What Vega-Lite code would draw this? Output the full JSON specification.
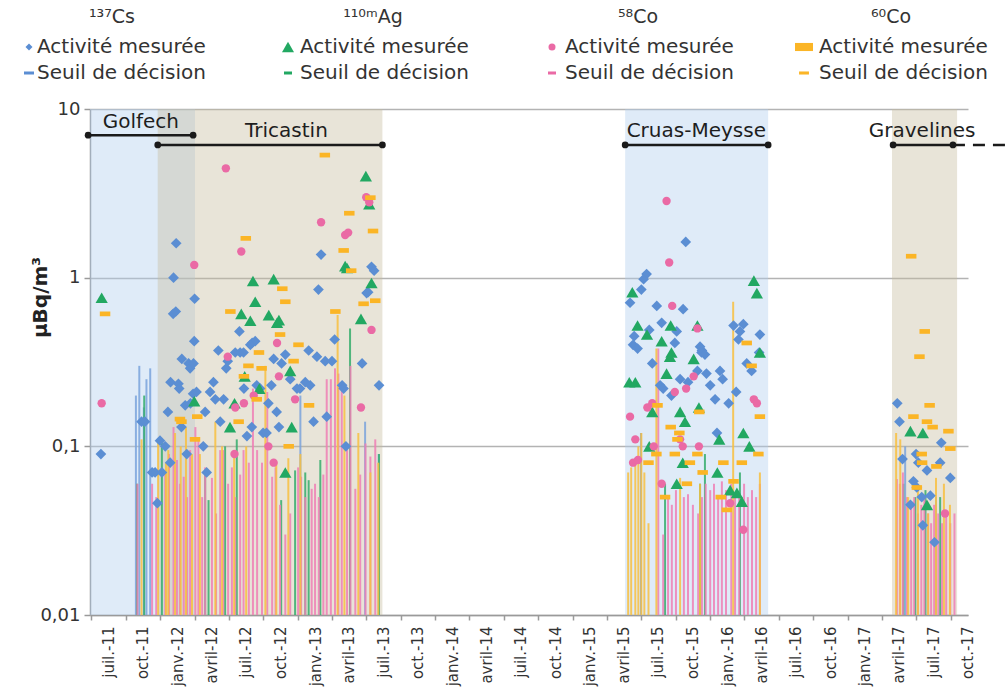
{
"$schema":"https://vega.github.io/schema/vega-lite/v6.json",
"width":878,"height":506,
"autosize":{"type":"none"},
"padding":{"left":90,"top":109,"right":38,"bottom":75},
"background":"#ffffff",
"config":{"font":"DejaVu Sans","view":{"stroke":null}},
"datasets":{
"bands":[
{"site":"Golfech","d":"2011-05-14","d2":"2012-02-17","k":"a"},
{"site":"Tricastin","d":"2011-11-10","d2":"2013-06-29","k":"b"},
{"site":"Cruas-Meysse","d":"2015-04-05","d2":"2016-04-19","k":"a"},
{"site":"Gravelines","d":"2017-03-14","d2":"2017-09-03","k":"b"}],
"sites":[
{"site":"Golfech","d":"2011-05-09","d2":"2012-02-12","v":7.0,"lab":"2011-09-26","lv":8.37},
{"site":"Tricastin","d":"2011-11-10","d2":"2013-06-29","v":6.12,"lab":"2012-10-17","lv":7.41},
{"site":"Cruas-Meysse","d":"2015-04-05","d2":"2016-04-19","v":6.12,"lab":"2015-10-11","lv":7.41},
{"site":"Gravelines","d":"2017-03-17","d2":"2017-08-23","v":6.12,"lab":"2017-06-02","lv":7.41}],
"dash":[{"d":"2017-08-23","d2":"2018-01-20","v":6.12}],
"pts":[
{"d":"2011-06-12","i":"Cs","v":0.09},{"d":"2011-09-28","i":"Cs","v":0.14},{"d":"2011-10-07","i":"Cs","v":0.14},{"d":"2011-10-26","i":"Cs","v":0.07},{"d":"2011-11-03","i":"Cs","v":0.07},{"d":"2011-11-21","i":"Cs","v":0.07},{"d":"2011-11-09","i":"Cs","v":0.046},{"d":"2011-11-16","i":"Cs","v":0.108},{"d":"2011-11-30","i":"Cs","v":0.1},{"d":"2011-12-13","i":"Cs","v":0.08},{"d":"2011-12-07","i":"Cs","v":0.16},{"d":"2011-12-14","i":"Cs","v":0.24},{"d":"2012-01-04","i":"Cs","v":0.235},{"d":"2012-01-06","i":"Cs","v":0.22},{"d":"2012-01-13","i":"Cs","v":0.33},{"d":"2012-01-31","i":"Cs","v":0.31},{"d":"2012-02-04","i":"Cs","v":0.29},{"d":"2012-02-13","i":"Cs","v":0.31},{"d":"2012-01-22","i":"Cs","v":0.175},{"d":"2012-02-05","i":"Cs","v":0.18},{"d":"2012-02-12","i":"Cs","v":0.205},{"d":"2012-02-21","i":"Cs","v":0.21},{"d":"2012-02-15","i":"Cs","v":0.42},{"d":"2011-12-22","i":"Cs","v":1.0},{"d":"2011-12-29","i":"Cs","v":1.6},{"d":"2011-12-21","i":"Cs","v":0.61},{"d":"2011-12-28","i":"Cs","v":0.63},{"d":"2012-02-16","i":"Cs","v":0.75},{"d":"2012-01-12","i":"Cs","v":0.13},{"d":"2012-01-26","i":"Cs","v":0.09},{"d":"2012-03-10","i":"Cs","v":0.1},{"d":"2012-03-19","i":"Cs","v":0.07},{"d":"2012-03-15","i":"Cs","v":0.16},{"d":"2012-03-28","i":"Cs","v":0.21},{"d":"2012-04-11","i":"Cs","v":0.19},{"d":"2012-05-03","i":"Cs","v":0.19},{"d":"2012-04-06","i":"Cs","v":0.24},{"d":"2012-04-19","i":"Cs","v":0.37},{"d":"2012-05-10","i":"Cs","v":0.29},{"d":"2012-05-14","i":"Cs","v":0.32},{"d":"2012-06-03","i":"Cs","v":0.36},{"d":"2012-06-16","i":"Cs","v":0.36},{"d":"2012-06-25","i":"Cs","v":0.36},{"d":"2012-04-24","i":"Cs","v":0.14},{"d":"2012-07-04","i":"Cs","v":0.115},{"d":"2012-07-17","i":"Cs","v":0.13},{"d":"2012-07-18","i":"Cs","v":0.41},{"d":"2012-07-26","i":"Cs","v":0.42},{"d":"2012-06-26","i":"Cs","v":0.22},{"d":"2012-07-30","i":"Cs","v":0.23},{"d":"2012-08-08","i":"Cs","v":0.22},{"d":"2012-08-30","i":"Cs","v":0.18},{"d":"2012-09-21","i":"Cs","v":0.16},{"d":"2012-08-16","i":"Cs","v":0.12},{"d":"2012-08-25","i":"Cs","v":0.12},{"d":"2012-09-27","i":"Cs","v":0.13},{"d":"2012-09-07","i":"Cs","v":0.23},{"d":"2012-09-13","i":"Cs","v":0.33},{"d":"2012-10-04","i":"Cs","v":0.31},{"d":"2012-10-14","i":"Cs","v":0.35},{"d":"2012-10-27","i":"Cs","v":0.25},{"d":"2012-11-14","i":"Cs","v":0.22},{"d":"2012-11-22","i":"Cs","v":0.22},{"d":"2012-12-06","i":"Cs","v":0.24},{"d":"2012-12-19","i":"Cs","v":0.23},{"d":"2012-12-15","i":"Cs","v":0.37},{"d":"2013-01-06","i":"Cs","v":0.34},{"d":"2013-01-28","i":"Cs","v":0.32},{"d":"2013-02-15","i":"Cs","v":0.32},{"d":"2012-12-28","i":"Cs","v":0.14},{"d":"2013-02-01","i":"Cs","v":0.15},{"d":"2013-03-14","i":"Cs","v":0.23},{"d":"2013-03-18","i":"Cs","v":0.22},{"d":"2013-05-06","i":"Cs","v":0.31},{"d":"2013-03-24","i":"Cs","v":0.1},{"d":"2013-06-20","i":"Cs","v":0.23},{"d":"2013-02-22","i":"Cs","v":0.43},{"d":"2012-06-14","i":"Cs","v":0.48},{"d":"2012-07-13","i":"Cs","v":0.4},{"d":"2013-01-10","i":"Cs","v":0.85},{"d":"2013-01-17","i":"Cs","v":1.37},{"d":"2013-05-31","i":"Cs","v":1.16},{"d":"2013-06-07","i":"Cs","v":1.1},{"d":"2013-05-18","i":"Cs","v":0.81},{"d":"2013-05-22","i":"Cs","v":0.82},
{"d":"2015-09-13","i":"Cs","v":1.63},{"d":"2015-06-01","i":"Cs","v":1.05},{"d":"2015-05-24","i":"Cs","v":0.98},{"d":"2015-05-18","i":"Cs","v":0.85},{"d":"2015-04-18","i":"Cs","v":0.71},{"d":"2015-06-28","i":"Cs","v":0.68},{"d":"2015-09-06","i":"Cs","v":0.65},{"d":"2015-06-08","i":"Cs","v":0.49},{"d":"2015-07-11","i":"Cs","v":0.54},{"d":"2015-08-20","i":"Cs","v":0.48},{"d":"2015-04-29","i":"Cs","v":0.45},{"d":"2015-04-26","i":"Cs","v":0.4},{"d":"2015-05-08","i":"Cs","v":0.38},{"d":"2015-08-15","i":"Cs","v":0.41},{"d":"2015-10-26","i":"Cs","v":0.37},{"d":"2015-10-21","i":"Cs","v":0.39},{"d":"2016-01-18","i":"Cs","v":0.52},{"d":"2016-02-13","i":"Cs","v":0.53},{"d":"2016-02-04","i":"Cs","v":0.48},{"d":"2016-01-31","i":"Cs","v":0.43},{"d":"2016-03-28","i":"Cs","v":0.46},{"d":"2015-06-16","i":"Cs","v":0.31},{"d":"2015-10-25","i":"Cs","v":0.36},{"d":"2015-11-03","i":"Cs","v":0.35},{"d":"2015-10-14","i":"Cs","v":0.28},{"d":"2015-11-07","i":"Cs","v":0.27},{"d":"2015-12-13","i":"Cs","v":0.28},{"d":"2015-12-20","i":"Cs","v":0.25},{"d":"2015-11-17","i":"Cs","v":0.23},{"d":"2015-11-30","i":"Cs","v":0.19},{"d":"2016-01-05","i":"Cs","v":0.18},{"d":"2016-01-25","i":"Cs","v":0.21},{"d":"2015-07-07","i":"Cs","v":0.23},{"d":"2015-07-15","i":"Cs","v":0.22},{"d":"2015-08-06","i":"Cs","v":0.2},{"d":"2015-08-29","i":"Cs","v":0.25},{"d":"2015-09-19","i":"Cs","v":0.24},{"d":"2015-12-05","i":"Cs","v":0.12},{"d":"2016-02-22","i":"Cs","v":0.31},{"d":"2016-03-06","i":"Cs","v":0.28},{"d":"2016-03-26","i":"Cs","v":0.36},
{"d":"2017-03-28","i":"Cs","v":0.18},{"d":"2017-04-03","i":"Cs","v":0.14},{"d":"2017-07-23","i":"Cs","v":0.105},{"d":"2017-04-11","i":"Cs","v":0.084},{"d":"2017-05-17","i":"Cs","v":0.09},{"d":"2017-05-23","i":"Cs","v":0.08},{"d":"2017-06-15","i":"Cs","v":0.072},{"d":"2017-07-20","i":"Cs","v":0.08},{"d":"2017-08-16","i":"Cs","v":0.065},{"d":"2017-05-10","i":"Cs","v":0.062},{"d":"2017-05-19","i":"Cs","v":0.057},{"d":"2017-06-01","i":"Cs","v":0.05},{"d":"2017-06-24","i":"Cs","v":0.051},{"d":"2017-05-02","i":"Cs","v":0.045},{"d":"2017-06-04","i":"Cs","v":0.034},{"d":"2017-07-05","i":"Cs","v":0.027},
{"d":"2011-06-14","i":"Ag","v":0.76},{"d":"2012-02-15","i":"Ag","v":0.185},{"d":"2012-07-20","i":"Ag","v":0.955},{"d":"2012-09-13","i":"Ag","v":0.98},{"d":"2012-07-26","i":"Ag","v":0.72},{"d":"2012-06-19","i":"Ag","v":0.61},{"d":"2012-07-13","i":"Ag","v":0.555},{"d":"2012-08-31","i":"Ag","v":0.6},{"d":"2012-09-27","i":"Ag","v":0.56},{"d":"2012-09-22","i":"Ag","v":0.54},{"d":"2012-06-01","i":"Ag","v":0.18},{"d":"2012-05-20","i":"Ag","v":0.13},{"d":"2012-06-28","i":"Ag","v":0.26},{"d":"2012-08-06","i":"Ag","v":0.22},{"d":"2012-10-31","i":"Ag","v":0.13},{"d":"2012-10-14","i":"Ag","v":0.07},{"d":"2012-10-27","i":"Ag","v":0.28},{"d":"2013-03-22","i":"Ag","v":1.17},{"d":"2013-03-27","i":"Ag","v":1.14},{"d":"2013-05-16","i":"Ag","v":4.0},{"d":"2013-05-25","i":"Ag","v":2.73},{"d":"2013-05-31","i":"Ag","v":0.93},{"d":"2013-05-03","i":"Ag","v":0.57},
{"d":"2015-04-24","i":"Ag","v":0.82},{"d":"2016-03-12","i":"Ag","v":0.96},{"d":"2016-03-20","i":"Ag","v":0.81},{"d":"2015-05-08","i":"Ag","v":0.52},{"d":"2015-06-02","i":"Ag","v":0.46},{"d":"2015-08-04","i":"Ag","v":0.52},{"d":"2015-10-14","i":"Ag","v":0.52},{"d":"2015-07-11","i":"Ag","v":0.42},{"d":"2015-08-06","i":"Ag","v":0.36},{"d":"2015-08-02","i":"Ag","v":0.34},{"d":"2015-10-04","i":"Ag","v":0.33},{"d":"2015-04-16","i":"Ag","v":0.24},{"d":"2015-05-02","i":"Ag","v":0.24},{"d":"2015-07-24","i":"Ag","v":0.27},{"d":"2015-06-16","i":"Ag","v":0.16},{"d":"2015-08-29","i":"Ag","v":0.16},{"d":"2015-09-11","i":"Ag","v":0.14},{"d":"2015-10-18","i":"Ag","v":0.17},{"d":"2015-06-08","i":"Ag","v":0.1},{"d":"2015-09-05","i":"Ag","v":0.08},{"d":"2015-12-06","i":"Ag","v":0.07},{"d":"2015-08-20","i":"Ag","v":0.06},{"d":"2015-12-11","i":"Ag","v":0.11},{"d":"2016-02-13","i":"Ag","v":0.12},{"d":"2016-02-29","i":"Ag","v":0.1},{"d":"2016-01-09","i":"Ag","v":0.055},{"d":"2016-01-27","i":"Ag","v":0.053},{"d":"2016-02-09","i":"Ag","v":0.047},{"d":"2016-03-28","i":"Ag","v":0.36},
{"d":"2017-05-02","i":"Ag","v":0.123},{"d":"2017-06-04","i":"Ag","v":0.12},{"d":"2017-06-15","i":"Ag","v":0.045},
{"d":"2011-06-14","i":"Co58","v":0.18},{"d":"2012-02-15","i":"Co58","v":1.19},{"d":"2012-05-09","i":"Co58","v":4.45},{"d":"2012-06-19","i":"Co58","v":1.43},{"d":"2012-09-22","i":"Co58","v":0.41},{"d":"2013-01-17","i":"Co58","v":2.13},{"d":"2013-03-22","i":"Co58","v":1.79},{"d":"2013-03-30","i":"Co58","v":1.85},{"d":"2013-05-17","i":"Co58","v":3.0},{"d":"2013-05-25","i":"Co58","v":2.8},{"d":"2013-05-31","i":"Co58","v":0.49},{"d":"2012-05-14","i":"Co58","v":0.34},{"d":"2012-06-03","i":"Co58","v":0.17},{"d":"2012-06-26","i":"Co58","v":0.18},{"d":"2012-06-01","i":"Co58","v":0.09},{"d":"2012-07-22","i":"Co58","v":0.2},{"d":"2012-08-30","i":"Co58","v":0.1},{"d":"2012-09-13","i":"Co58","v":0.08},{"d":"2012-09-27","i":"Co58","v":0.26},{"d":"2012-11-09","i":"Co58","v":0.19},{"d":"2013-05-03","i":"Co58","v":0.17},
{"d":"2015-07-24","i":"Co58","v":2.85},{"d":"2015-07-31","i":"Co58","v":1.23},{"d":"2015-08-08","i":"Co58","v":0.68},{"d":"2015-10-14","i":"Co58","v":0.5},{"d":"2015-09-14","i":"Co58","v":0.22},{"d":"2015-08-15","i":"Co58","v":0.21},{"d":"2015-10-04","i":"Co58","v":0.26},{"d":"2015-06-03","i":"Co58","v":0.17},{"d":"2015-06-16","i":"Co58","v":0.18},{"d":"2015-04-18","i":"Co58","v":0.15},{"d":"2015-08-29","i":"Co58","v":0.11},{"d":"2015-09-05","i":"Co58","v":0.1},{"d":"2015-05-02","i":"Co58","v":0.11},{"d":"2015-06-20","i":"Co58","v":0.1},{"d":"2015-10-18","i":"Co58","v":0.1},{"d":"2015-04-26","i":"Co58","v":0.08},{"d":"2015-05-09","i":"Co58","v":0.083},{"d":"2015-07-11","i":"Co58","v":0.06},{"d":"2016-01-09","i":"Co58","v":0.046},{"d":"2016-02-13","i":"Co58","v":0.032},{"d":"2016-03-12","i":"Co58","v":0.19},{"d":"2016-03-20","i":"Co58","v":0.18},
{"d":"2017-08-02","i":"Co58","v":0.04},
{"d":"2011-06-23","i":"Co60","v":0.61},{"d":"2012-07-01","i":"Co60","v":1.71},{"d":"2012-10-06","i":"Co60","v":0.86},{"d":"2012-10-14","i":"Co60","v":0.72},{"d":"2012-05-21","i":"Co60","v":0.63},{"d":"2012-09-30","i":"Co60","v":0.46},{"d":"2012-11-18","i":"Co60","v":0.4},{"d":"2013-01-27","i":"Co60","v":5.33},{"d":"2013-04-02","i":"Co60","v":2.41},{"d":"2013-03-18","i":"Co60","v":1.45},{"d":"2013-04-07","i":"Co60","v":1.1},{"d":"2013-05-28","i":"Co60","v":2.98},{"d":"2013-06-04","i":"Co60","v":1.89},{"d":"2013-05-10","i":"Co60","v":0.7},{"d":"2013-06-10","i":"Co60","v":0.73},{"d":"2013-02-24","i":"Co60","v":0.63},{"d":"2012-01-08","i":"Co60","v":0.145},{"d":"2012-01-12","i":"Co60","v":0.14},{"d":"2012-02-23","i":"Co60","v":0.15},{"d":"2012-02-17","i":"Co60","v":0.11},{"d":"2012-08-05","i":"Co60","v":0.36},{"d":"2012-07-08","i":"Co60","v":0.3},{"d":"2012-08-12","i":"Co60","v":0.29},{"d":"2012-06-26","i":"Co60","v":0.26},{"d":"2012-07-30","i":"Co60","v":0.19},{"d":"2012-06-12","i":"Co60","v":0.14},{"d":"2012-10-23","i":"Co60","v":0.1},{"d":"2012-11-05","i":"Co60","v":0.32},{"d":"2012-12-16","i":"Co60","v":0.175},
{"d":"2016-02-22","i":"Co60","v":0.41},{"d":"2015-06-30","i":"Co60","v":0.175},{"d":"2015-10-19","i":"Co60","v":0.16},{"d":"2015-08-04","i":"Co60","v":0.13},{"d":"2015-08-27","i":"Co60","v":0.12},{"d":"2015-08-22","i":"Co60","v":0.11},{"d":"2015-06-27","i":"Co60","v":0.09},{"d":"2015-06-06","i":"Co60","v":0.08},{"d":"2015-08-15","i":"Co60","v":0.09},{"d":"2015-10-14","i":"Co60","v":0.09},{"d":"2015-09-24","i":"Co60","v":0.08},{"d":"2015-12-22","i":"Co60","v":0.08},{"d":"2016-02-09","i":"Co60","v":0.08},{"d":"2016-03-24","i":"Co60","v":0.09},{"d":"2015-10-28","i":"Co60","v":0.07},{"d":"2015-09-16","i":"Co60","v":0.06},{"d":"2016-01-18","i":"Co60","v":0.062},{"d":"2015-07-20","i":"Co60","v":0.05},{"d":"2015-12-15","i":"Co60","v":0.05},{"d":"2015-12-31","i":"Co60","v":0.042},{"d":"2016-03-28","i":"Co60","v":0.15},{"d":"2016-03-06","i":"Co60","v":0.3},
{"d":"2017-05-04","i":"Co60","v":1.34},{"d":"2017-06-09","i":"Co60","v":0.48},{"d":"2017-05-26","i":"Co60","v":0.34},{"d":"2017-06-22","i":"Co60","v":0.175},{"d":"2017-05-10","i":"Co60","v":0.15},{"d":"2017-06-15","i":"Co60","v":0.14},{"d":"2017-06-30","i":"Co60","v":0.13},{"d":"2017-08-11","i":"Co60","v":0.123},{"d":"2017-08-16","i":"Co60","v":0.097},{"d":"2017-06-01","i":"Co60","v":0.09},{"d":"2017-06-02","i":"Co60","v":0.08},{"d":"2017-07-10","i":"Co60","v":0.076},{"d":"2017-05-19","i":"Co60","v":0.057}],
"seuil":[
{"d":"2011-09-13","i":"Cs","v":0.2},{"d":"2011-09-22","i":"Cs","v":0.3},{"d":"2011-10-04","i":"Cs","v":0.17},{"d":"2011-10-11","i":"Cs","v":0.25},{"d":"2011-10-21","i":"Cs","v":0.29},{"d":"2012-11-23","i":"Cs","v":0.2},{"d":"2013-05-14","i":"Cs","v":0.14},{"d":"2013-06-19","i":"Cs","v":0.09},{"d":"2015-05-17","i":"Cs","v":0.12},{"d":"2017-04-18","i":"Cs","v":0.1},{"d":"2017-07-09","i":"Cs","v":0.05},
{"d":"2011-09-16","i":"Ag","v":0.06},{"d":"2011-10-05","i":"Ag","v":0.2},{"d":"2011-11-21","i":"Ag","v":0.11},{"d":"2012-03-15","i":"Ag","v":0.07},{"d":"2012-03-24","i":"Ag","v":0.048},{"d":"2012-05-07","i":"Ag","v":0.1},{"d":"2012-06-07","i":"Ag","v":0.11},{"d":"2012-10-03","i":"Ag","v":0.048},{"d":"2012-11-09","i":"Ag","v":0.072},{"d":"2012-12-06","i":"Ag","v":0.07},{"d":"2012-12-15","i":"Ag","v":0.063},{"d":"2013-01-15","i":"Ag","v":0.083},{"d":"2013-04-04","i":"Ag","v":0.5},{"d":"2013-06-20","i":"Ag","v":0.09},{"d":"2015-07-20","i":"Ag","v":0.06},{"d":"2015-11-03","i":"Ag","v":0.09},{"d":"2015-10-21","i":"Ag","v":0.06},{"d":"2016-02-04","i":"Ag","v":0.07},{"d":"2017-04-13","i":"Ag","v":0.06},{"d":"2017-05-15","i":"Ag","v":0.05},{"d":"2017-06-11","i":"Ag","v":0.055},{"d":"2017-07-20","i":"Ag","v":0.05},
{"d":"2011-09-17","i":"Co58","v":0.06},{"d":"2011-10-26","i":"Co58","v":0.06},{"d":"2011-11-06","i":"Co58","v":0.05},{"d":"2011-11-30","i":"Co58","v":0.07},{"d":"2011-12-10","i":"Co58","v":0.09},{"d":"2011-12-22","i":"Co58","v":0.13},{"d":"2011-12-31","i":"Co58","v":0.083},{"d":"2012-01-08","i":"Co58","v":0.06},{"d":"2012-01-18","i":"Co58","v":0.066},{"d":"2012-01-27","i":"Co58","v":0.05},{"d":"2012-02-04","i":"Co58","v":0.095},{"d":"2012-02-18","i":"Co58","v":0.13},{"d":"2012-02-26","i":"Co58","v":0.11},{"d":"2012-03-07","i":"Co58","v":0.05},{"d":"2012-03-15","i":"Co58","v":0.075},{"d":"2012-04-02","i":"Co58","v":0.065},{"d":"2012-04-13","i":"Co58","v":0.04},{"d":"2012-04-24","i":"Co58","v":0.095},{"d":"2012-05-02","i":"Co58","v":0.095},{"d":"2012-05-15","i":"Co58","v":0.06},{"d":"2012-05-25","i":"Co58","v":0.075},{"d":"2012-06-03","i":"Co58","v":0.05},{"d":"2012-06-16","i":"Co58","v":0.068},{"d":"2012-06-25","i":"Co58","v":0.095},{"d":"2012-07-09","i":"Co58","v":0.08},{"d":"2012-07-20","i":"Co58","v":0.22},{"d":"2012-07-31","i":"Co58","v":0.095},{"d":"2012-08-13","i":"Co58","v":0.08},{"d":"2012-08-27","i":"Co58","v":0.21},{"d":"2012-09-09","i":"Co58","v":0.066},{"d":"2012-09-18","i":"Co58","v":0.075},{"d":"2012-09-30","i":"Co58","v":0.045},{"d":"2012-10-14","i":"Co58","v":0.03},{"d":"2012-10-27","i":"Co58","v":0.04},{"d":"2012-11-17","i":"Co58","v":0.075},{"d":"2012-11-25","i":"Co58","v":0.066},{"d":"2012-12-06","i":"Co58","v":0.05},{"d":"2012-12-23","i":"Co58","v":0.056},{"d":"2013-01-01","i":"Co58","v":0.06},{"d":"2013-01-11","i":"Co58","v":0.05},{"d":"2013-01-23","i":"Co58","v":0.068},{"d":"2013-02-01","i":"Co58","v":0.25},{"d":"2013-02-12","i":"Co58","v":0.25},{"d":"2013-02-23","i":"Co58","v":0.29},{"d":"2013-03-04","i":"Co58","v":0.27},{"d":"2013-03-13","i":"Co58","v":0.24},{"d":"2013-03-27","i":"Co58","v":0.095},{"d":"2013-04-05","i":"Co58","v":0.3},{"d":"2013-04-18","i":"Co58","v":0.056},{"d":"2013-05-01","i":"Co58","v":0.068},{"d":"2013-05-15","i":"Co58","v":0.104},{"d":"2013-05-28","i":"Co58","v":0.087},{"d":"2013-06-10","i":"Co58","v":0.11},
{"d":"2015-07-02","i":"Co58","v":0.38},{"d":"2015-07-15","i":"Co58","v":0.03},{"d":"2015-07-28","i":"Co58","v":0.05},{"d":"2015-08-07","i":"Co58","v":0.045},{"d":"2015-08-18","i":"Co58","v":0.055},{"d":"2015-09-08","i":"Co58","v":0.05},{"d":"2015-09-19","i":"Co58","v":0.052},{"d":"2015-10-02","i":"Co58","v":0.045},{"d":"2015-10-16","i":"Co58","v":0.04},{"d":"2015-10-26","i":"Co58","v":0.05},{"d":"2015-11-05","i":"Co58","v":0.06},{"d":"2015-11-17","i":"Co58","v":0.055},{"d":"2015-11-27","i":"Co58","v":0.06},{"d":"2015-12-08","i":"Co58","v":0.05},{"d":"2015-12-18","i":"Co58","v":0.062},{"d":"2015-12-29","i":"Co58","v":0.055},{"d":"2016-01-12","i":"Co58","v":0.06},{"d":"2016-01-22","i":"Co58","v":0.05},{"d":"2016-02-02","i":"Co58","v":0.052},{"d":"2016-02-15","i":"Co58","v":0.06},{"d":"2016-02-25","i":"Co58","v":0.05},{"d":"2016-03-07","i":"Co58","v":0.055},{"d":"2016-03-18","i":"Co58","v":0.05},{"d":"2016-03-28","i":"Co58","v":0.06},
{"d":"2017-03-27","i":"Co58","v":0.064},{"d":"2017-04-04","i":"Co58","v":0.06},{"d":"2017-04-12","i":"Co58","v":0.07},{"d":"2017-04-23","i":"Co58","v":0.05},{"d":"2017-05-04","i":"Co58","v":0.045},{"d":"2017-05-12","i":"Co58","v":0.05},{"d":"2017-05-22","i":"Co58","v":0.04},{"d":"2017-05-31","i":"Co58","v":0.045},{"d":"2017-06-08","i":"Co58","v":0.05},{"d":"2017-06-18","i":"Co58","v":0.04},{"d":"2017-06-26","i":"Co58","v":0.035},{"d":"2017-07-04","i":"Co58","v":0.045},{"d":"2017-07-15","i":"Co58","v":0.04},{"d":"2017-07-25","i":"Co58","v":0.035},{"d":"2017-08-05","i":"Co58","v":0.04},{"d":"2017-08-16","i":"Co58","v":0.035},{"d":"2017-08-27","i":"Co58","v":0.04},
{"d":"2011-09-28","i":"Co60","v":0.11},{"d":"2011-11-11","i":"Co60","v":0.11},{"d":"2011-12-02","i":"Co60","v":0.08},{"d":"2011-12-08","i":"Co60","v":0.095},{"d":"2011-12-26","i":"Co60","v":0.12},{"d":"2012-01-10","i":"Co60","v":0.1},{"d":"2012-01-24","i":"Co60","v":0.13},{"d":"2012-02-09","i":"Co60","v":0.09},{"d":"2012-03-01","i":"Co60","v":0.09},{"d":"2012-04-11","i":"Co60","v":0.14},{"d":"2012-04-29","i":"Co60","v":0.1},{"d":"2012-05-31","i":"Co60","v":0.09},{"d":"2012-07-02","i":"Co60","v":0.1},{"d":"2012-08-22","i":"Co60","v":0.3},{"d":"2012-09-20","i":"Co60","v":0.08},{"d":"2012-10-22","i":"Co60","v":0.085},{"d":"2012-11-23","i":"Co60","v":0.09},{"d":"2013-03-02","i":"Co60","v":0.6},{"d":"2013-03-20","i":"Co60","v":0.2},{"d":"2013-04-26","i":"Co60","v":0.12},{"d":"2013-05-28","i":"Co60","v":0.07},{"d":"2013-06-18","i":"Co60","v":0.08},
{"d":"2015-04-13","i":"Co60","v":0.07},{"d":"2015-04-21","i":"Co60","v":0.075},{"d":"2015-05-02","i":"Co60","v":0.08},{"d":"2015-05-10","i":"Co60","v":0.1},{"d":"2015-05-18","i":"Co60","v":0.12},{"d":"2015-05-26","i":"Co60","v":0.07},{"d":"2015-06-06","i":"Co60","v":0.035},{"d":"2015-06-27","i":"Co60","v":0.38},{"d":"2015-08-29","i":"Co60","v":0.065},{"d":"2015-10-21","i":"Co60","v":0.06},{"d":"2016-01-17","i":"Co60","v":0.72},{"d":"2016-03-28","i":"Co60","v":0.07},
{"d":"2017-03-25","i":"Co60","v":0.12},{"d":"2017-04-05","i":"Co60","v":0.11},{"d":"2017-04-26","i":"Co60","v":0.05},{"d":"2017-05-22","i":"Co60","v":0.06},{"d":"2017-06-18","i":"Co60","v":0.04},{"d":"2017-07-09","i":"Co60","v":0.065},{"d":"2017-07-30","i":"Co60","v":0.06},{"d":"2017-08-15","i":"Co60","v":0.045}]
},
"encoding":{
"x":{"field":"d","type":"temporal",
 "scale":{"domain":[{"year":2011,"month":5,"date":14,"utc":true},{"year":2017,"month":10,"date":2,"utc":true}]},
 "axis":{"title":null,"grid":false,
  "values":[{"year":2011,"month":7,"date":1,"utc":true},{"year":2011,"month":10,"date":1,"utc":true},{"year":2012,"month":1,"date":1,"utc":true},{"year":2012,"month":4,"date":1,"utc":true},{"year":2012,"month":7,"date":1,"utc":true},{"year":2012,"month":10,"date":1,"utc":true},{"year":2013,"month":1,"date":1,"utc":true},{"year":2013,"month":4,"date":1,"utc":true},{"year":2013,"month":7,"date":1,"utc":true},{"year":2013,"month":10,"date":1,"utc":true},{"year":2014,"month":1,"date":1,"utc":true},{"year":2014,"month":4,"date":1,"utc":true},{"year":2014,"month":7,"date":1,"utc":true},{"year":2014,"month":10,"date":1,"utc":true},{"year":2015,"month":1,"date":1,"utc":true},{"year":2015,"month":4,"date":1,"utc":true},{"year":2015,"month":7,"date":1,"utc":true},{"year":2015,"month":10,"date":1,"utc":true},{"year":2016,"month":1,"date":1,"utc":true},{"year":2016,"month":4,"date":1,"utc":true},{"year":2016,"month":7,"date":1,"utc":true},{"year":2016,"month":10,"date":1,"utc":true},{"year":2017,"month":1,"date":1,"utc":true},{"year":2017,"month":4,"date":1,"utc":true},{"year":2017,"month":7,"date":1,"utc":true},{"year":2017,"month":10,"date":1,"utc":true}],
  "labelExpr":"(utcmonth(datum.value)==0?'janv.':utcmonth(datum.value)==3?'avril':utcmonth(datum.value)==6?'juil.':'oct.')+'-'+utcFormat(datum.value,'%y')",
  "labelAngle":-90,"labelAlign":"right","labelBaseline":"middle","labelFontSize":15,"labelColor":"#333333","labelPadding":6,
  "labelFlush":false,"labelOverlap":false,"tickOffset":-17,"labelOffset":17,
  "domainColor":"#9a9a9a","domainWidth":1.5,"tickColor":"#9a9a9a","tickSize":5,"tickWidth":1.5}}
},
"layer":[
{"data":{"name":"bands"},"mark":{"type":"rect","opacity":0.4},
 "encoding":{"x2":{"field":"d2"},
  "color":{"field":"k","type":"nominal","scale":{"domain":["a","b"],"range":["#b0cdee","#c5bb9d"]},"legend":null}}},
{"data":{"name":"seuil"},"mark":{"type":"rule","strokeWidth":2,"opacity":0.85},
 "encoding":{
  "y":{"field":"v","type":"quantitative",
   "scale":{"type":"log","domain":[0.01,10]},
   "axis":{"title":"µBq/m³","titleFontSize":20,"titleFontWeight":"bold","titleColor":"#222222","titleX":-50,"titleY":188,"titleAngle":270,"titleAlign":"center","titleBaseline":"middle",
    "values":[0.01,0.1,1,10],
    "labelExpr":"datum.value >= 1 ? format(datum.value,'d') : replace(format(datum.value,'.2~f'),'.',',')",
    "labelFontSize":18,"labelColor":"#333333","labelPadding":4,"labelFlush":false,
    "grid":true,"gridColor":"#b3b3b3","gridWidth":1.5,
    "domainColor":"#9a9a9a","domainWidth":1.5,"tickColor":"#9a9a9a","tickSize":6,"tickWidth":1.5}},
  "y2":{"datum":0.01},
  "color":{"field":"i","type":"nominal","scale":{"domain":["Cs","Ag","Co58","Co60"],"range":["#7aa3dc","#35ad6c","#ee7fb5","#f8c040"]},"legend":null}}},
{"data":{"name":"pts"},"transform":[{"filter":"datum.i=='Cs'"},{"calculate":"'Activité mesurée'","as":"t"}],
 "mark":{"type":"point","filled":true,"opacity":1,"size":115},
 "encoding":{"y":{"field":"v","type":"quantitative"},
  "color":{"field":"t","type":"nominal","scale":{"domain":["Activité mesurée","Seuil de décision"],"range":["#5b8ed3","#5b8ed3"]},
   "legend":{"title":"¹³⁷Cs","orient":"none","legendX":-71,"legendY":-101,"titleAnchor":"middle","titleAlign":"center","titleFontSize":19,"titleFontWeight":"normal","titleColor":"#333333","titlePadding":10,"labelFontSize":20,"labelLimit":300,"labelColor":"#333333","labelOffset":-2,"symbolSize":49,"symbolOpacity":1,"symbolStrokeWidth":0,"rowPadding":6,"padding":0}},
  "shape":{"field":"t","type":"nominal","scale":{"domain":["Activité mesurée","Seuil de décision"],"range":["diamond","M-1.43,-0.43H1.43V0.43H-1.43Z"]}}}},
{"data":{"name":"pts"},"transform":[{"filter":"datum.i=='Ag'"},{"calculate":"'Activité mesurée'","as":"t"}],
 "mark":{"type":"point","filled":true,"opacity":1,"size":150},
 "encoding":{"y":{"field":"v","type":"quantitative"},
  "color":{"field":"t","type":"nominal","scale":{"domain":["Activité mesurée","Seuil de décision"],"range":["#22a862","#22a862"]},
   "legend":{"title":"¹¹⁰ᵐAg","orient":"none","legendX":188,"legendY":-101,"titleAnchor":"middle","titleAlign":"center","titleFontSize":19,"titleFontWeight":"normal","titleColor":"#333333","titlePadding":10,"labelFontSize":20,"labelLimit":300,"labelColor":"#333333","labelOffset":2,"symbolSize":144,"symbolOpacity":1,"symbolStrokeWidth":0,"rowPadding":6,"padding":0}},
  "shape":{"field":"t","type":"nominal","scale":{"domain":["Activité mesurée","Seuil de décision"],"range":["triangle-up","M-0.67,-0.25H0.67V0.25H-0.67Z"]}}}},
{"data":{"name":"pts"},"transform":[{"filter":"datum.i=='Co58'"},{"calculate":"'Activité mesurée'","as":"t"}],
 "mark":{"type":"point","filled":true,"opacity":1,"size":70},
 "encoding":{"y":{"field":"v","type":"quantitative"},
  "color":{"field":"t","type":"nominal","scale":{"domain":["Activité mesurée","Seuil de décision"],"range":["#ea6aa5","#ea6aa5"]},
   "legend":{"title":"⁵⁸Co","orient":"none","legendX":452,"legendY":-101,"titleAnchor":"middle","titleAlign":"center","titleFontSize":19,"titleFontWeight":"normal","titleColor":"#333333","titlePadding":10,"labelFontSize":20,"labelLimit":300,"labelColor":"#333333","labelOffset":3,"symbolSize":49,"symbolOpacity":1,"symbolStrokeWidth":0,"rowPadding":6,"padding":0}},
  "shape":{"field":"t","type":"nominal","scale":{"domain":["Activité mesurée","Seuil de décision"],"range":["circle","M-1.15,-0.43H1.15V0.43H-1.15Z"]}}}},
{"data":{"name":"pts"},"transform":[{"filter":"datum.i=='Co60'"},{"calculate":"'Activité mesurée'","as":"t"}],
 "mark":{"type":"point","filled":true,"opacity":1,"size":110},
 "encoding":{"y":{"field":"v","type":"quantitative"},
  "color":{"field":"t","type":"nominal","scale":{"domain":["Activité mesurée","Seuil de décision"],"range":["#fbb526","#fbb526"]},
   "legend":{"title":"⁶⁰Co","orient":"none","legendX":704,"legendY":-101,"titleAnchor":"middle","titleAlign":"center","titleFontSize":19,"titleFontWeight":"normal","titleColor":"#333333","titlePadding":10,"labelFontSize":20,"labelLimit":300,"labelColor":"#333333","labelOffset":5,"symbolSize":324,"symbolOpacity":1,"symbolStrokeWidth":0,"rowPadding":6,"padding":0}},
  "shape":{"field":"t","type":"nominal","scale":{"domain":["Activité mesurée","Seuil de décision"],"range":["M-1,-0.45H1V0.45H-1Z","M-0.55,-0.17H0.55V0.17H-0.55Z"]}}}},
{"data":{"name":"sites"},"mark":{"type":"rule","strokeWidth":2.5,"color":"#1a1a1a"},
 "encoding":{"x2":{"field":"d2"},"y":{"field":"v","type":"quantitative"}}},
{"data":{"name":"dash"},"mark":{"type":"rule","strokeWidth":2.5,"color":"#1a1a1a","strokeDash":[12,8]},
 "encoding":{"x2":{"field":"d2"},"y":{"field":"v","type":"quantitative"}}},
{"data":{"name":"sites"},"mark":{"type":"circle","size":45,"color":"#1a1a1a","opacity":1},
 "encoding":{"y":{"field":"v","type":"quantitative"}}},
{"data":{"name":"sites"},"mark":{"type":"circle","size":45,"color":"#1a1a1a","opacity":1},
 "encoding":{"x":{"field":"d2","type":"temporal"},"y":{"field":"v","type":"quantitative"}}},
{"data":{"name":"sites"},"mark":{"type":"text","fontSize":20,"color":"#1e1e1e","align":"center","baseline":"middle"},
 "encoding":{"x":{"field":"lab","type":"temporal"},"y":{"field":"lv","type":"quantitative"},"text":{"field":"site"}}}
],
"resolve":{"scale":{"color":"independent","shape":"independent"}}
}
